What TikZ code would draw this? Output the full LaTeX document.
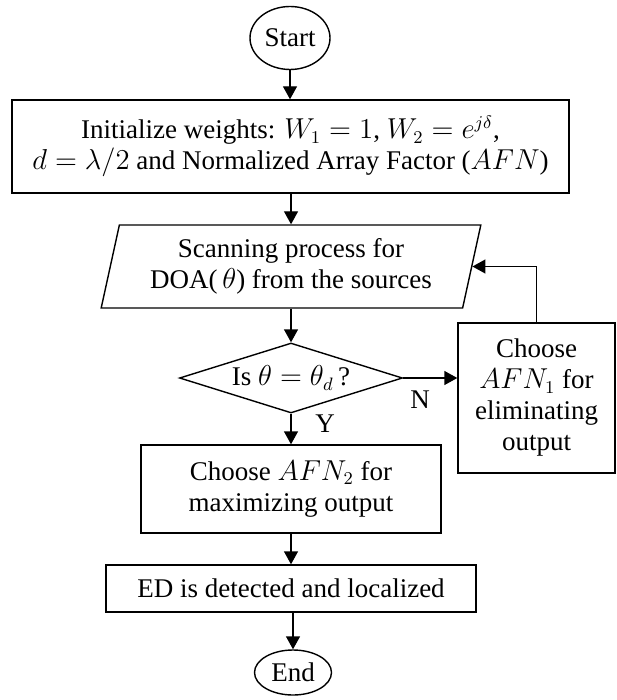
\documentclass[tikz,border=0pt]{standalone}
\usepackage{fontspec}
\setmainfont{Liberation Serif}
\usetikzlibrary{shapes.geometric,arrows.meta}

\begin{document}
\begin{tikzpicture}[x=1pt,y=1pt,
    font=\fontsize{13.5pt}{15.5pt}\selectfont,
    box/.style={rectangle,draw,line width=0.7pt,align=center,inner sep=0pt},
    term/.style={ellipse,draw,line width=0.7pt,inner sep=0pt},
    arr/.style={line width=0.7pt,-{Triangle[length=6.5pt,width=7pt]}}]
    \useasboundingbox (0,0) rectangle (308,-350);

    \node[term,minimum width=40pt,minimum height=31.5pt] (start) at (145,-19) {Start};
    \node[box,minimum width=278.5pt,minimum height=46.5pt] (init) at (145.25,-73.25)
      {Initialize weights: $W_1 = 1$, $W_2 = e^{j\delta}$,\\ $d = \lambda/2$ and Normalized Array Factor ($AFN$)};
    \node[trapezium,draw,line width=0.7pt,trapezium left angle=75,trapezium right angle=105,
          trapezium stretches=true,minimum width=190pt,minimum height=41.5pt,inner sep=0pt,align=center]
      (scan) at (145.5,-133.25) {Scanning process for\\ DOA($\,\theta$) from the sources};
    \node[diamond,draw,line width=0.7pt,shape aspect=3.2,minimum width=111.5pt,minimum height=35pt,inner sep=0pt]
      (dec) at (145.5,-189) {Is $\theta = \theta_d$\,?};
    \node[box,minimum width=78.5pt,minimum height=75pt] (choose1) at (268.25,-199)
      {Choose\\ $AFN_1$ for\\ eliminating\\ output};
    \node[box,minimum width=150pt,minimum height=44pt] (choose2) at (145.5,-244.5)
      {Choose $AFN_2$ for\\ maximizing output};
    \node[box,minimum width=185pt,minimum height=23.5pt] (ed) at (145.5,-294.25)
      {ED is detected and localized};
    \node[term,minimum width=38.5pt,minimum height=22.5pt] (stop) at (146.5,-336.25) {End};

    % labels on the decision
    \node (nlab) at ([xshift=8.5pt,yshift=-11pt]dec.east) {N};
    \node (ylab) at ([xshift=17pt,yshift=-5pt]dec.south) {Y};

    \draw[arr] (start) -- (start |- init.north);
    \draw[arr] (scan.north |- init.south) -- (scan.north);
    \draw[arr] (dec.north |- scan.south) -- (dec.north);
    \draw[arr] (dec.east) -- (dec.east -| choose1.west);
    \draw[arr] (choose1.north) |- (scan.east);
    \draw[arr] (dec.south) -- (dec.south |- choose2.north);
    \draw[arr] (choose2.south) -- (choose2.south |- ed.north);
    \draw[arr] (stop.north |- ed.south) -- (stop.north);
\end{tikzpicture}
\end{document}
